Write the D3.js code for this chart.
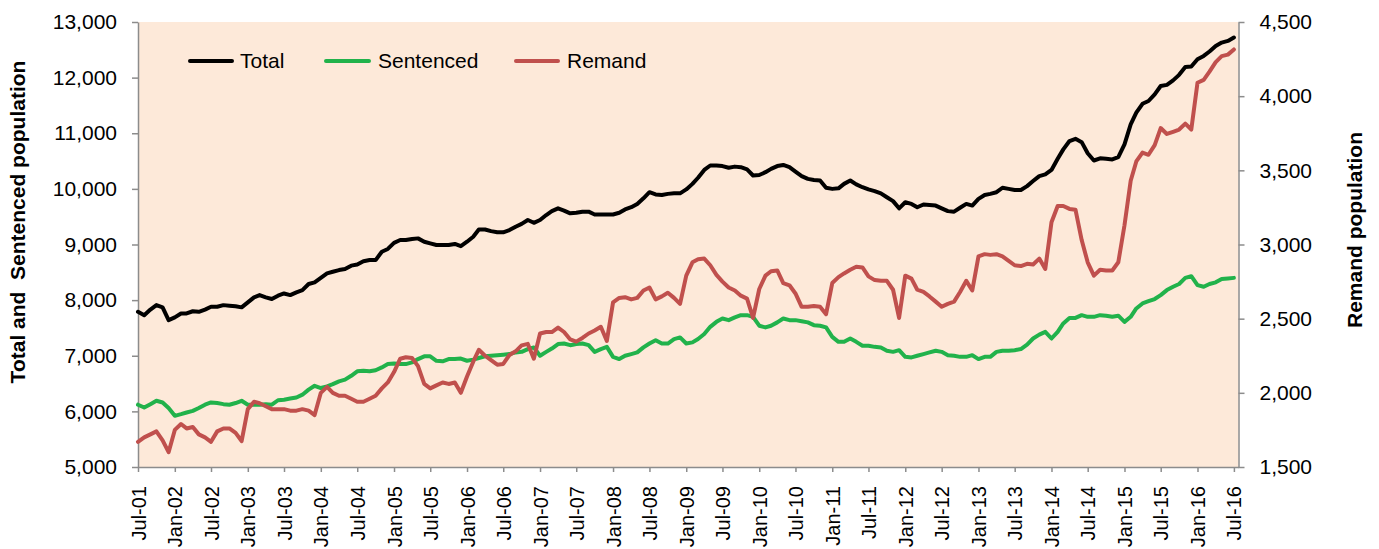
<!DOCTYPE html>
<html>
<head>
<meta charset="utf-8">
<script src="https://cdn.jsdelivr.net/npm/d3@7"></script>
<style>
  html, body { margin: 0; padding: 0; background: #ffffff; }
  svg { display: block; font-family: "Liberation Sans", Arial, sans-serif; }
</style>
</head>
<body>
<svg id="chart" width="1379" height="549"></svg>
<script>
// ---- Data (monthly, Jul-01 .. Jul-16) ----
const startMonth = new Date(2001, 6, 1);
const endMonth = new Date(2016, 6, 1);
const months = d3.timeMonth.range(startMonth, d3.timeMonth.offset(endMonth, 1));

const total = [
 7790,7730,7830,7910,7870,7640,7690,7760,7760,7800,7790,7830,
 7880,7880,7910,7900,7890,7870,7960,8050,8090,8050,8020,8080,
 8120,8090,8140,8180,8290,8320,8400,8480,8510,8540,8560,8620,
 8640,8700,8720,8720,8870,8920,9030,9080,9080,9100,9110,9050,
 9020,8990,8990,8990,9010,8970,9050,9140,9270,9270,9240,9220,
 9220,9260,9320,9370,9440,9390,9440,9530,9600,9650,9610,9560,
 9570,9590,9590,9540,9540,9540,9540,9570,9630,9670,9730,9830,
 9940,9900,9890,9910,9920,9920,9990,10090,10200,10340,10420,10420,
 10410,10380,10400,10390,10350,10240,10250,10300,10360,10410,10430,10390,
 10310,10230,10180,10160,10150,10020,10000,10010,10090,10150,10080,10030,
 9990,9960,9920,9850,9780,9650,9760,9730,9670,9720,9710,9700,
 9650,9600,9590,9660,9730,9700,9820,9890,9910,9940,10020,10000,
 9980,9980,10050,10140,10230,10260,10340,10540,10710,10860,10900,10840,
 10640,10510,10550,10540,10530,10570,10800,11160,11370,11530,11580,11700,
 11850,11870,11950,12050,12190,12200,12330,12390,12470,12570,12630,12660,
 12720
];

const sentenced = [
 6120,6070,6130,6190,6160,6060,5920,5950,5980,6010,6060,6120,
 6160,6150,6130,6120,6150,6190,6120,6120,6120,6130,6120,6200,
 6210,6230,6250,6300,6390,6460,6420,6450,6490,6540,6570,6640,
 6720,6730,6720,6740,6790,6850,6860,6850,6850,6880,6940,6990,
 6990,6910,6900,6940,6940,6950,6910,6930,6960,6990,7000,7010,
 7020,7030,7060,7070,7120,7150,7000,7070,7130,7210,7220,7190,
 7210,7220,7190,7070,7120,7160,6980,6940,7000,7030,7060,7150,
 7220,7280,7220,7220,7300,7330,7220,7240,7300,7390,7520,7610,
 7670,7640,7690,7730,7730,7700,7540,7510,7540,7600,7670,7640,
 7640,7620,7600,7550,7540,7510,7340,7250,7250,7310,7250,7180,
 7180,7160,7150,7090,7070,7100,6980,6970,7000,7030,7060,7090,
 7070,7010,7000,6980,6980,7010,6940,6980,6980,7070,7090,7090,
 7100,7120,7200,7310,7380,7430,7310,7430,7580,7680,7680,7730,
 7700,7700,7730,7720,7700,7720,7610,7700,7850,7940,7980,8020,
 8090,8180,8240,8290,8400,8430,8270,8240,8290,8320,8380,8390,
 8400
];

const remand = [
 1670,1700,1720,1740,1680,1600,1750,1790,1760,1770,1720,1700,
 1670,1740,1760,1760,1730,1675,1890,1940,1930,1910,1890,1890,
 1890,1880,1880,1890,1880,1850,2000,2040,2000,1980,1980,1960,
 1940,1940,1960,1980,2030,2070,2140,2230,2240,2235,2180,2060,
 2030,2050,2070,2060,2070,2000,2110,2210,2290,2250,2220,2190,
 2195,2255,2280,2320,2330,2230,2400,2410,2410,2440,2410,2360,
 2345,2370,2400,2420,2445,2350,2610,2640,2645,2630,2640,2690,
 2710,2630,2650,2675,2640,2600,2790,2880,2900,2905,2860,2795,
 2750,2710,2690,2655,2635,2505,2700,2790,2820,2825,2740,2725,
 2670,2580,2580,2585,2580,2530,2740,2780,2805,2830,2850,2845,
 2785,2760,2755,2755,2695,2505,2790,2770,2695,2680,2650,2615,
 2580,2600,2615,2680,2755,2690,2920,2935,2930,2935,2920,2890,
 2860,2855,2870,2865,2905,2835,3150,3260,3260,3240,3235,3030,
 2880,2790,2830,2825,2825,2880,3130,3430,3560,3620,3605,3670,
 3785,3745,3760,3775,3815,3775,4090,4110,4165,4230,4270,4280,
 4315
];

const seriesNames = ["Total", "Sentenced", "Remand"];
const seriesColors = ["#000000", "#21B24B", "#C0504D"];
const leftTicks = [5000, 6000, 7000, 8000, 9000, 10000, 11000, 12000, 13000];
const rightTicks = [1500, 2000, 2500, 3000, 3500, 4000, 4500];
const leftTitle = "Total and\u00A0\u00A0Sentenced population";
const rightTitle = "Remand population";

// ---- Layout ----
const plot = { left: 138, right: 1238.5, top: 22, bottom: 467 };
const svg = d3.select("#chart");

const x = d3.scaleTime()
  .domain([startMonth, new Date(2016, 6, 24)])
  .range([plot.left, plot.right]);
const yL = d3.scaleLinear().domain([5000, 13000]).range([plot.bottom, plot.top]);
const yR = d3.scaleLinear().domain([1500, 4500]).range([plot.bottom, plot.top]);

// plot background
svg.append("rect")
  .attr("x", plot.left).attr("y", plot.top)
  .attr("width", plot.right - plot.left).attr("height", plot.bottom - plot.top)
  .attr("fill", "#FDE9D9");

const axisColor = "#8C8C8C";
const fontSize = "21px";

function styleAxis(g, size) {
  g.selectAll(".domain").attr("stroke", axisColor).attr("stroke-width", 1.5);
  g.selectAll(".tick line").attr("stroke", axisColor).attr("stroke-width", 1.5);
  g.selectAll(".tick text").attr("fill", "#000").style("font-size", size || fontSize)
    .style("font-family", '"Liberation Sans", Arial, sans-serif');
}

// left axis
const gL = svg.append("g").attr("transform", `translate(${plot.left},0)`)
  .call(d3.axisLeft(yL).tickValues(leftTicks).tickFormat(d3.format(",")).tickSize(6).tickPadding(15).tickSizeOuter(0));
styleAxis(gL);

// right axis
const gR = svg.append("g").attr("transform", `translate(${plot.right},0)`)
  .call(d3.axisRight(yR).tickValues(rightTicks).tickFormat(d3.format(",")).tickSize(6).tickPadding(15).tickSizeOuter(0));
styleAxis(gR);

// x axis
const xTicks = d3.timeMonth.every(6).range(startMonth, d3.timeMonth.offset(endMonth, 1));
const gX = svg.append("g").attr("transform", `translate(0,${plot.bottom})`)
  .call(d3.axisBottom(x).tickValues(xTicks).tickFormat(d3.timeFormat("%b-%y")).tickSize(5).tickSizeOuter(0));
styleAxis(gX, "20px");
gX.selectAll(".tick text")
  .attr("transform", "rotate(-90)")
  .attr("text-anchor", "end")
  .attr("x", -19).attr("y", 0).attr("dy", "0.35em");

// lines
const lineL = d3.line().x((d, i) => x(months[i])).y(d => yL(d));
const lineR = d3.line().x((d, i) => x(months[i])).y(d => yR(d));

[[total, lineL, 0], [sentenced, lineL, 1], [remand, lineR, 2]].forEach(([data, gen, k]) => {
  svg.append("path")
    .datum(data)
    .attr("d", gen)
    .attr("fill", "none")
    .attr("stroke", seriesColors[k])
    .attr("stroke-width", 4)
    .attr("stroke-linejoin", "round")
    .attr("stroke-linecap", "round");
});

// legend
const legendItems = [
  { x1: 190, x2: 232, tx: 240 },
  { x1: 326, x2: 369, tx: 378 },
  { x1: 516, x2: 558, tx: 567 }
];
const legY = 61;
legendItems.forEach((it, k) => {
  svg.append("line").attr("x1", it.x1).attr("x2", it.x2).attr("y1", legY).attr("y2", legY)
    .attr("stroke", seriesColors[k]).attr("stroke-width", 4).attr("stroke-linecap", "round");
  svg.append("text").attr("x", it.tx).attr("y", legY).attr("dy", "0.35em")
    .style("font-size", fontSize).attr("fill", "#000").text(seriesNames[k]);
});

// axis titles
svg.append("text")
  .attr("transform", "translate(25,222) rotate(-90)")
  .attr("text-anchor", "middle")
  .style("font-size", fontSize).style("font-weight", "bold")
  .attr("fill", "#000")
  .text(leftTitle);

svg.append("text")
  .attr("transform", "translate(1362,230) rotate(-90)")
  .attr("text-anchor", "middle")
  .style("font-size", fontSize).style("font-weight", "bold")
  .attr("fill", "#000")
  .text(rightTitle);
</script>
</body>
</html>
